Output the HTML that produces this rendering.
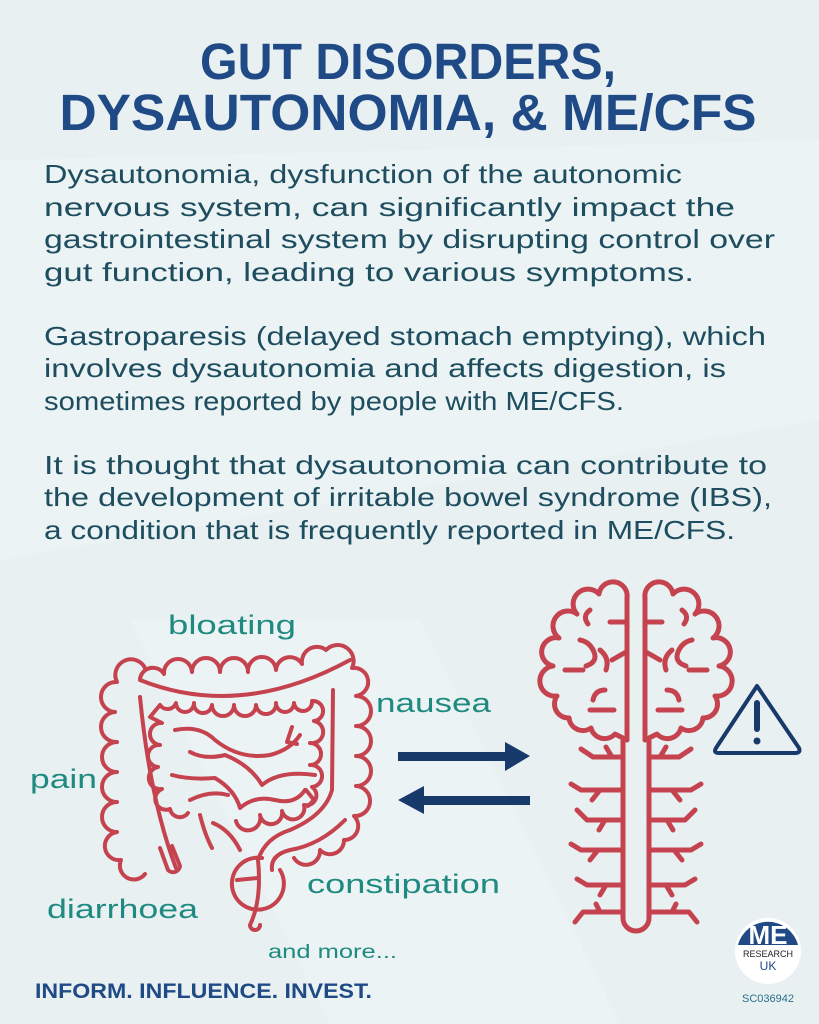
<!DOCTYPE html>
<html><head><meta charset="utf-8"><style>
html,body{margin:0;padding:0;background:#e9f1f3}
svg{display:block}
</style></head><body>
<svg width="819" height="1024" viewBox="0 0 819 1024" xmlns="http://www.w3.org/2000/svg">
<rect width="819" height="1024" fill="#e8f0f2"/>
<polygon points="0,160 819,140 819,420 0,560" fill="#edf4f5" opacity="0.7"/>
<polygon points="130,620 420,620 620,1024 330,1024" fill="#eef5f6" opacity="0.6"/>
<g font-family="Liberation Sans, sans-serif">
<text x="408" y="79" text-anchor="middle" font-size="51" font-weight="bold" fill="#1f4a86" textLength="416" lengthAdjust="spacingAndGlyphs">GUT DISORDERS,</text>
<text x="408" y="130" text-anchor="middle" font-size="51" font-weight="bold" fill="#1f4a86" textLength="697" lengthAdjust="spacingAndGlyphs">DYSAUTONOMIA, &amp; ME/CFS</text>
<g font-size="26" fill="#1d4d5e">
<text x="44" y="183" textLength="638" lengthAdjust="spacingAndGlyphs">Dysautonomia, dysfunction of the autonomic</text>
<text x="44" y="216" textLength="691" lengthAdjust="spacingAndGlyphs">nervous system, can significantly impact the</text>
<text x="44" y="248" textLength="731" lengthAdjust="spacingAndGlyphs">gastrointestinal system by disrupting control over</text>
<text x="44" y="281" textLength="650" lengthAdjust="spacingAndGlyphs">gut function, leading to various symptoms.</text>
<text x="44" y="345" textLength="722" lengthAdjust="spacingAndGlyphs">Gastroparesis (delayed stomach emptying), which</text>
<text x="44" y="377" textLength="682" lengthAdjust="spacingAndGlyphs">involves dysautonomia and affects digestion, is</text>
<text x="44" y="410" textLength="580" lengthAdjust="spacingAndGlyphs">sometimes reported by people with ME/CFS.</text>
<text x="44" y="474" textLength="723" lengthAdjust="spacingAndGlyphs">It is thought that dysautonomia can contribute to</text>
<text x="44" y="506" textLength="728" lengthAdjust="spacingAndGlyphs">the development of irritable bowel syndrome (IBS),</text>
<text x="44" y="539" textLength="691" lengthAdjust="spacingAndGlyphs">a condition that is frequently reported in ME/CFS.</text>
</g>
<g font-size="27" fill="#1f8a80">
<text x="168" y="634" textLength="128" lengthAdjust="spacingAndGlyphs">bloating</text>
<text x="376" y="712" textLength="115" lengthAdjust="spacingAndGlyphs">nausea</text>
<text x="30" y="788" textLength="67" lengthAdjust="spacingAndGlyphs">pain</text>
<text x="307" y="893" textLength="193" lengthAdjust="spacingAndGlyphs">constipation</text>
<text x="47" y="918" textLength="151" lengthAdjust="spacingAndGlyphs">diarrhoea</text>
</g>
<text x="268" y="958" font-size="19" fill="#1f8a80" textLength="129" lengthAdjust="spacingAndGlyphs">and more...</text>
<text x="35" y="998" font-size="21" font-weight="bold" fill="#1f4a86" textLength="337" lengthAdjust="spacingAndGlyphs">INFORM. INFLUENCE. INVEST.</text>
</g>
<!-- arrows -->
<g fill="#173a6a">
<rect x="398" y="752" width="110" height="9"/>
<polygon points="505,742 530,756 505,771"/>
<rect x="422" y="796" width="108" height="9"/>
<polygon points="424,786 398,800 424,814"/>
</g>
<!-- gut -->
<g fill="none" stroke="#c5434f" stroke-width="4" stroke-linecap="round" stroke-linejoin="round">
<path d="M140,679 a13,13 0 0 1 24,-5 a14,14 0 0 1 28,-2 a14,14 0 0 1 28,0 a14,14 0 0 1 28,0 a14,14 0 0 1 28,-2 a14,14 0 0 1 26,-6 a15,15 0 0 1 24,-14 a16,16 0 0 1 26,18 a14,14 0 0 1 4,28 a14,14 0 0 1 0,30 a14,14 0 0 1 0,30 a14,14 0 0 1 0,30 a14,14 0 0 1 -2,30 a14,14 0 0 1 -10,24 a14,14 0 0 1 -24,10 a14,14 0 0 1 -26,8"/>
<path d="M140,680 Q240,720 350,660"/>
<path d="M145,668 a14,14 0 0 0 -28,14 a14,14 0 0 0 -2,30 a14,14 0 0 0 2,30 a14,14 0 0 0 0,30 a14,14 0 0 0 0,30 a14,14 0 0 0 0,30 a14,14 0 0 0 4,28 a14,14 0 0 0 24,14"/>
<path d="M140,697 Q150,800 176,868"/>
<path d="M160,848 L168,870 a7,7 0 0 0 12,-4 L172,846"/>
<path d="M333,690 L332,790 Q325,815 290,830 Q265,838 258,860"/>
<path d="M345,820 Q320,845 290,850 Q270,855 272,870"/>
<path d="M262,858 a26,26 0 1 0 18,12"/>
<path d="M258,860 Q262,900 250,925 a5,5 0 0 0 10,0"/>
<path d="M237,880 L258,878"/>
<path d="M160,705 a9,9 0 0 0 16,-2 a9,9 0 0 0 18,0 a9,9 0 0 0 18,2 a9,9 0 0 0 22,0 a9,9 0 0 0 22,0 a9,9 0 0 0 20,-2 a9,9 0 0 0 18,0 a9,9 0 0 0 18,-2 a10,10 0 0 1 2,20 a10,10 0 0 1 -4,22 a10,10 0 0 1 0,22 a10,10 0 0 1 2,22 a10,10 0 0 1 -8,18 a10,10 0 0 1 -22,6 a10,10 0 0 1 -22,4 a10,10 0 0 1 -24,6"/>
<path d="M160,705 l-10,12 l12,6 a10,10 0 0 0 -2,22 a10,10 0 0 0 -2,22 a10,10 0 0 0 4,22 a10,10 0 0 0 8,20 a10,10 0 0 0 18,4"/>
<path d="M175,730 Q200,725 215,740 Q240,760 270,755 Q290,750 300,735"/>
<path d="M190,752 Q205,760 225,755 Q250,765 262,785 Q280,770 315,775"/>
<path d="M172,775 Q190,780 215,778 Q235,790 240,808 Q255,795 275,800 Q295,805 305,790"/>
<path d="M190,800 Q210,790 228,795"/>
<path d="M200,815 Q205,835 212,848"/>
<path d="M213,823 Q230,830 240,850"/>
<path d="M292,727 l-5,15 l10,2"/>
<path d="M306,790 l8,10 l-6,6"/>
</g>
<!-- brain -->
<g fill="none" stroke="#c5434f" stroke-width="5" stroke-linecap="round" stroke-linejoin="round">
<path d="M627,740 L627,598 a14,14 0 0 0 -28,-4 a14,14 0 0 0 -22,20 a14,14 0 0 0 -18,24 a14,14 0 0 0 -6,28 a14,14 0 0 0 4,30 a14,14 0 0 0 12,22 a14,14 0 0 0 22,10 a14,14 0 0 0 24,6 Z"/>
<path d="M645,740 L645,598 a14,14 0 0 1 28,-4 a14,14 0 0 1 22,20 a14,14 0 0 1 18,24 a14,14 0 0 1 6,28 a14,14 0 0 1 -4,30 a14,14 0 0 1 -12,22 a14,14 0 0 1 -22,10 a14,14 0 0 1 -24,6 Z"/>
<path d="M610,622 h16 M590,610 q-8,6 -2,14 M580,640 q10,2 14,12 q4,10 -8,14 M600,650 q10,8 6,20 M565,670 h18 M605,690 q-10,0 -12,10 M590,710 h24 M612,660 l14,-8"/>
<path d="M662,622 h-16 M682,610 q8,6 2,14 M692,640 q-10,2 -14,12 q-4,10 8,14 M672,650 q-10,8 -6,20 M707,670 h-18 M667,690 q10,0 12,10 M682,710 h-24 M660,660 l-14,-8"/>
<path d="M623,740 L623,918 a13,13 0 0 0 26,0 L649,740"/>
<path d="M623,757 h-30 l-12,-8 M612,757 l-6,-10 M623,790 h-42 l-10,-6 M600,790 l-8,10 M623,820 h-36 l-10,-10 M605,820 l-6,10 M623,850 h-42 l-10,-6 M598,850 l-8,10 M623,885 h-36 l-10,-6 M606,885 l-6,10 M623,912 h-40 l-8,10 M600,912 l-4,-8"/>
<path d="M649,757 h30 l12,-8 M660,757 l6,-10 M649,790 h42 l10,-6 M672,790 l8,10 M649,820 h36 l10,-10 M667,820 l6,10 M649,850 h42 l10,-6 M674,850 l8,10 M649,885 h36 l10,-6 M666,885 l6,10 M649,912 h40 l8,10 M672,912 l4,-8"/>
</g>
<!-- warning -->
<path d="M757,686 L799,748 Q801,753 795,753 L719,753 Q713,753 716,748 Z" fill="none" stroke="#173a6a" stroke-width="4" stroke-linejoin="round"/>
<rect x="754" y="700" width="6" height="32" rx="3" fill="#173a6a"/>
<circle cx="757" cy="741" r="3.5" fill="#173a6a"/>
<!-- logo -->
<circle cx="768" cy="951" r="33" fill="#fff"/>
<path d="M738,945 A31,31 0 0 1 798,945 Z" fill="#1f4a86"/>
<text x="768" y="944" text-anchor="middle" font-family="Liberation Sans, sans-serif" font-size="26" font-weight="bold" fill="#fff">ME</text>
<text x="768" y="957" text-anchor="middle" font-family="Liberation Sans, sans-serif" font-size="9" fill="#222">RESEARCH</text>
<text x="768" y="970" text-anchor="middle" font-family="Liberation Sans, sans-serif" font-size="12" fill="#1f4a86">UK</text>
<text x="768" y="1002" text-anchor="middle" font-family="Liberation Sans, sans-serif" font-size="11" fill="#2a6f8a">SC036942</text>
</svg>
</body></html>
